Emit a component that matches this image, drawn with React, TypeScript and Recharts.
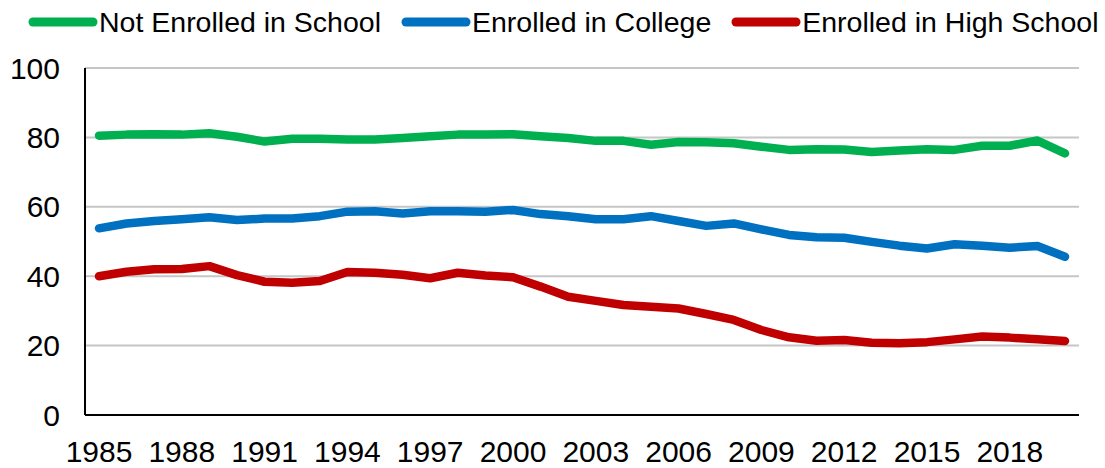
import React from 'react';
import { LineChart, Line, XAxis, YAxis, CartesianGrid, Legend } from 'recharts';

const years = [
  '1985', '1986', '1987', '1988', '1989', '1990', '1991', '1992', '1993', '1994', '1995', '1996',
  '1997', '1998', '1999', '2000', '2001', '2002', '2003', '2004', '2005', '2006', '2007', '2008',
  '2009', '2010', '2011', '2012', '2013', '2014', '2015', '2016', '2017', '2018', '2019', '2020',
];

const notEnrolled = [
  80.5, 80.8, 80.9, 80.8, 81.2, 80.2, 78.8, 79.6, 79.6, 79.4, 79.4, 79.8,
  80.3, 80.8, 80.8, 80.9, 80.3, 79.8, 79.0, 79.0, 77.9, 78.7, 78.6, 78.3,
  77.3, 76.4, 76.6, 76.5, 75.8, 76.2, 76.6, 76.4, 77.6, 77.6, 79.1, 75.4,
];

const college = [
  53.8, 55.2, 55.9, 56.4, 57.0, 56.2, 56.6, 56.6, 57.3, 58.6, 58.7, 58.1,
  58.7, 58.7, 58.6, 59.1, 57.9, 57.3, 56.4, 56.4, 57.3, 55.9, 54.5, 55.2,
  53.5, 51.9, 51.2, 51.1, 49.9, 48.8, 48.0, 49.2, 48.8, 48.2, 48.7, 45.6,
];

const highSchool = [
  40.0, 41.3, 42.0, 42.1, 42.9, 40.3, 38.4, 38.1, 38.6, 41.2, 41.0, 40.4,
  39.4, 41.0, 40.2, 39.7, 37.0, 34.1, 32.9, 31.7, 31.2, 30.7, 29.1, 27.4,
  24.5, 22.4, 21.4, 21.6, 20.8, 20.7, 21.0, 21.8, 22.6, 22.3, 21.8, 21.3,
];

const yTicks = [0, 20, 40, 60, 80, 100];

const series = [
  { key: 'Not Enrolled in School', color: '#00B050' },
  { key: 'Enrolled in College', color: '#0070C0' },
  { key: 'Enrolled in High School', color: '#C00000' },
];

const data = years.map((year, i) => ({
  year,
  'Not Enrolled in School': notEnrolled[i],
  'Enrolled in College': college[i],
  'Enrolled in High School': highSchool[i],
}));

const FONT = '"Liberation Sans", Arial, sans-serif';

const LegendContent = () => (
  <div style={{ display: 'flex', alignItems: 'center', height: 44, paddingLeft: 28, fontFamily: FONT, fontSize: 28.5, color: '#000' }}>
    {series.map((s, i) => (
      <div key={s.key} style={{ display: 'flex', alignItems: 'center', marginLeft: i === 0 ? 0 : 20 }}>
        <svg width={70} height={12} style={{ marginRight: 1, flexShrink: 0 }}>
          <line x1={5} y1={6} x2={65} y2={6} stroke={s.color} strokeWidth={9} strokeLinecap="round" />
        </svg>
        <span style={{ whiteSpace: 'nowrap' }}>{s.key}</span>
      </div>
    ))}
  </div>
);

export default function App() {
  return (
    <div style={{ position: 'absolute', left: 0, top: 0, width: 1105, height: 468, background: '#fff' }}>
      <LineChart width={1105} height={468} data={data} margin={{ top: 24, right: 26, left: 0, bottom: 0 }}>
        <CartesianGrid horizontal vertical={false} stroke="#C6C6C6" strokeWidth={2} />
        <Legend verticalAlign="top" align="left" content={<LegendContent />} wrapperStyle={{ top: 0, left: 0, width: 1105, height: 44 }} />
        <XAxis
          dataKey="year"
          interval={2}
          padding={{ left: 14, right: 14 }}
          tickLine={false}
          tickSize={0}
          tickMargin={26}
          height={53}
          axisLine={{ stroke: '#000', strokeWidth: 2 }}
          tick={{ fill: '#000', fontSize: 30, fontFamily: FONT }}
        />
        <XAxis xAxisId="top" orientation="top" dataKey="year" height={0} tick={false} tickLine={false} axisLine={{ stroke: '#000', strokeWidth: 2 }} />
        <YAxis
          domain={[0, 100]}
          ticks={yTicks}
          width={85}
          tickLine={false}
          tickSize={0}
          tickMargin={25}
          axisLine={{ stroke: '#000', strokeWidth: 2 }}
          tick={{ fill: '#000', fontSize: 30, fontFamily: FONT }}
        />
        <YAxis yAxisId="right" orientation="right" domain={[0, 100]} width={0} tick={false} tickLine={false} axisLine={{ stroke: '#000', strokeWidth: 2 }} />
        {series.map((s) => (
          <Line
            key={s.key}
            type="linear"
            dataKey={s.key}
            stroke={s.color}
            strokeWidth={8.5}
            strokeLinecap="round"
            strokeLinejoin="round"
            dot={false}
            activeDot={false}
            isAnimationActive={false}
          />
        ))}
      </LineChart>
    </div>
  );
}
